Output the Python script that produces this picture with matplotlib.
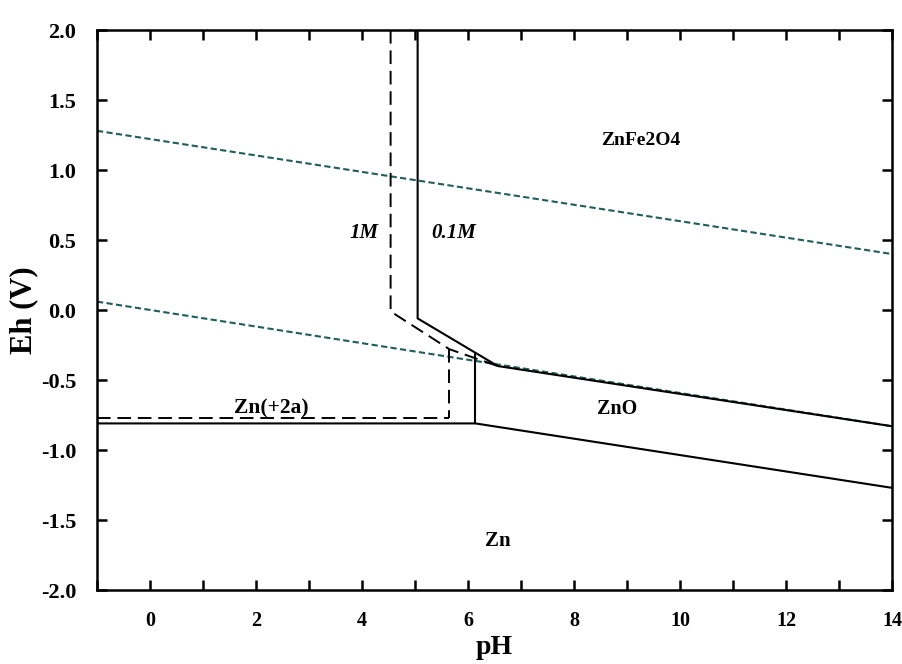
import matplotlib
matplotlib.use('Agg')
import matplotlib.pyplot as plt
import numpy as np
from matplotlib.ticker import MultipleLocator, FuncFormatter

plt.rcParams['font.family'] = ['Liberation Serif', 'DejaVu Serif']
plt.rcParams['font.weight'] = 'bold'

# water stability lines (dotted)
o2_ph = [-1, 14]
o2_eh = [1.28, 0.40]
h2_ph = [-1, 14]
h2_eh = [0.06, -0.83]

# 0.1M boundaries (solid)
b01_ph = [5.05, 5.05, 6.56, 14]
b01_eh = [2.0, -0.06, -0.40, -0.83]
v01_ph = [6.14, 6.14]
v01_eh = [-0.31, -0.81]
zn_ph = [-1, 6.14, 14]
zn_eh = [-0.81, -0.81, -1.27]

# 1M boundaries (dashed)
b1_ph = [4.54, 4.54, 5.65, 6.56]
b1_eh = [2.0, -0.01, -0.28, -0.40]
v1_ph = [5.65, 5.65]
v1_eh = [-0.28, -0.77]
h1_ph = [-1, 5.65]
h1_eh = [-0.77, -0.77]

fig = plt.figure(figsize=(9.03, 6.64), dpi=100)
ax = fig.add_axes([0.1074, 0.1114, 0.8804, 0.8434])

teal = '#1d5f5a'
ax.plot(o2_ph, o2_eh, color=teal, lw=1.5, linestyle=(0, (3, 1.6)))
ax.plot(h2_ph, h2_eh, color=teal, lw=1.5, linestyle=(0, (3, 1.6)))

ax.plot(b01_ph, b01_eh, color='black', lw=1.5)
ax.plot(v01_ph, v01_eh, color='black', lw=1.5)
ax.plot(zn_ph, zn_eh, color='black', lw=1.5)

ax.plot(b1_ph, b1_eh, color='black', lw=1.4, linestyle=(0, (7, 3.5)))
ax.plot(v1_ph, v1_eh, color='black', lw=1.4, linestyle=(0, (7, 3.5)))
ax.plot(h1_ph, h1_eh, color='black', lw=1.4, linestyle=(0, (7, 3.5)))

# region labels
ax.text(9.26, 1.21, 'ZnFe2O4', fontsize=14, ha='center', va='center')
ax.text(8.82, -0.71, 'ZnO', fontsize=14.5, ha='center', va='center')
ax.text(6.56, -1.65, 'Zn', fontsize=15, ha='center', va='center')
ax.text(2.29, -0.775, 'Zn(+2a)', fontsize=15.5, ha='center', va='bottom')
ax.text(4.03, 0.55, '1M', fontsize=15, ha='center', va='center', style='italic')
ax.text(5.73, 0.55, '0.1M', fontsize=15, ha='center', va='center', style='italic')

ax.set_xlim(-1, 14)
ax.set_ylim(-2, 2)
ax.xaxis.set_major_locator(MultipleLocator(1))
ax.xaxis.set_major_formatter(FuncFormatter(lambda v, p: '%d' % v if int(round(v)) % 2 == 0 else ''))
ax.yaxis.set_major_locator(MultipleLocator(0.5))
ax.yaxis.set_major_formatter(FuncFormatter(lambda v, p: '%.1f' % v))
ax.tick_params(direction='in', length=7, width=1.8, top=True, right=True, pad=15)
ax.tick_params(axis='x', labelsize=14.5)
ax.tick_params(axis='y', labelsize=16)

for s in ax.spines.values():
    s.set_linewidth(1.8)

ax.set_xlabel('pH', fontsize=20, fontweight='bold', labelpad=3)
ax.set_ylabel('Eh (V)', fontsize=22, fontweight='bold', labelpad=2)

plt.savefig('out.png', dpi=100)
